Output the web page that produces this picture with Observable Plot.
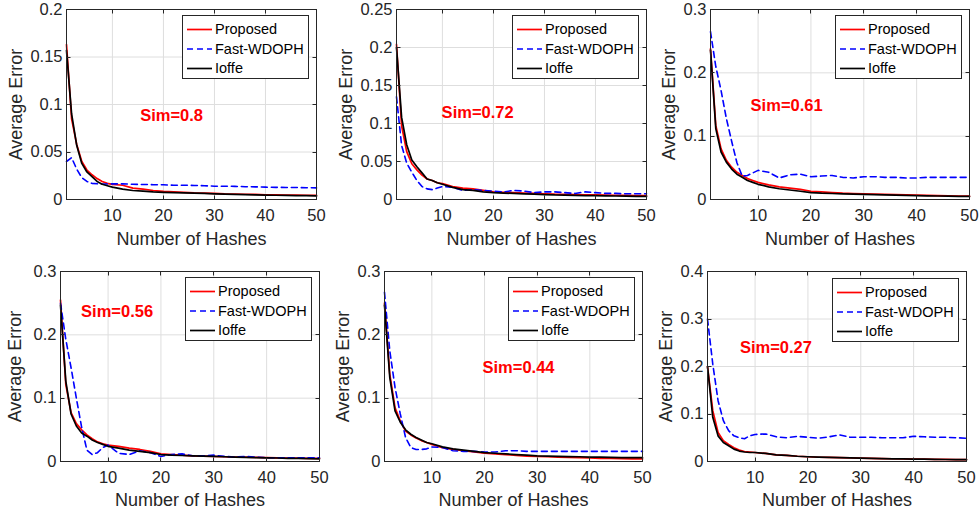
<!DOCTYPE html>
<html><head><meta charset="utf-8">
<script src="https://cdn.jsdelivr.net/npm/d3@7"></script>
<script src="https://cdn.jsdelivr.net/npm/@observablehq/plot@0.6"></script>
<style>
body{margin:0;background:#fff;}
#chart{position:relative;width:979px;height:514px;overflow:hidden;background:#fff;font-family:"Liberation Sans",Arial,Helvetica,sans-serif;color:#262626;}
.panel{position:absolute;}
.legend{position:absolute;background:#fff;border:1px solid #262626;box-sizing:border-box;}
.legend svg{position:absolute;left:0;top:0;}
.legend span{position:absolute;left:32px;font-size:14.5px;line-height:18px;color:#000;white-space:nowrap;}
</style></head><body><div id="chart"></div>
<script>
// ---------------- data ----------------
const hashes = [1,2,3,4,5,6,7,8,9,10,12,14,16,18,20,22,24,26,28,30,32,34,36,38,40,42,44,46,48,50];
const seriesNames = ["Proposed","Fast-WDOPH","Ioffe"];
const simLabels = ["Sim=0.8","Sim=0.72","Sim=0.61","Sim=0.56","Sim=0.44","Sim=0.27"];
const simX = [21.6, 16.9, 15.4, 11.7, 26.45, 13.95];
const simY = [0.0884, 0.1138, 0.148, 0.237, 0.148, 0.239];
const xTicks = [10,20,30,40,50];
const yTicks1 = [0,0.05,0.1,0.15,0.2];
const yTicks2 = [0,0.05,0.1,0.15,0.2,0.25];
const yTicks3 = [0,0.1,0.2,0.3];
const yTicks4 = [0,0.1,0.2,0.3];
const yTicks5 = [0,0.1,0.2,0.3];
const yTicks6 = [0,0.1,0.2,0.3,0.4];

// Sim=0.8
const proposed1 = [0.163,0.085,0.058,0.040,0.031,0.026,0.022,0.019,0.017,0.016,0.015,0.012,0.011,0.0095,0.0085,0.008,0.0075,0.007,0.0068,0.0065,0.006,0.0058,0.0055,0.0053,0.005,0.0048,0.0047,0.0046,0.0045,0.0044];
const fast1     = [0.040,0.044,0.032,0.023,0.019,0.017,0.0165,0.0163,0.0163,0.0165,0.0165,0.016,0.0158,0.0156,0.0155,0.015,0.015,0.0148,0.0145,0.014,0.014,0.0138,0.0135,0.0133,0.013,0.0128,0.0127,0.0126,0.0124,0.0122];
const ioffe1    = [0.157,0.090,0.057,0.038,0.029,0.024,0.019,0.016,0.0145,0.013,0.011,0.0095,0.0088,0.008,0.0075,0.0072,0.007,0.0067,0.0064,0.006,0.0057,0.0054,0.0051,0.0049,0.0047,0.0045,0.0043,0.0041,0.004,0.0038];
// Sim=0.72
const proposed2 = [0.204,0.097,0.063,0.047,0.039,0.032,0.027,0.025,0.022,0.021,0.017,0.015,0.014,0.012,0.010,0.0095,0.009,0.0085,0.008,0.0075,0.007,0.0068,0.0065,0.0062,0.006,0.0058,0.0056,0.0054,0.0052,0.005];
const fast2     = [0.135,0.071,0.048,0.036,0.025,0.017,0.014,0.013,0.015,0.017,0.016,0.012,0.013,0.012,0.011,0.010,0.012,0.011,0.009,0.010,0.010,0.009,0.008,0.010,0.009,0.008,0.008,0.0075,0.0075,0.0075];
const ioffe2    = [0.200,0.108,0.072,0.052,0.043,0.035,0.027,0.025,0.022,0.020,0.016,0.013,0.012,0.010,0.009,0.0085,0.008,0.0075,0.007,0.0065,0.006,0.0058,0.0055,0.0052,0.005,0.0048,0.0046,0.0044,0.0042,0.004];
// Sim=0.61
const proposed3 = [0.238,0.117,0.080,0.062,0.051,0.043,0.038,0.033,0.030,0.027,0.023,0.020,0.018,0.016,0.013,0.012,0.011,0.010,0.0095,0.009,0.0085,0.008,0.0078,0.0075,0.007,0.0065,0.006,0.0058,0.0055,0.0052];
const fast3     = [0.265,0.21,0.172,0.128,0.092,0.058,0.037,0.038,0.042,0.046,0.043,0.034,0.039,0.040,0.036,0.037,0.038,0.035,0.034,0.036,0.036,0.035,0.035,0.034,0.034,0.035,0.035,0.035,0.035,0.035];
const ioffe3    = [0.236,0.112,0.075,0.059,0.048,0.040,0.035,0.030,0.027,0.024,0.020,0.017,0.015,0.013,0.011,0.010,0.0095,0.009,0.0085,0.008,0.0077,0.0074,0.007,0.0065,0.006,0.0058,0.0055,0.0052,0.005,0.0048];
// Sim=0.56
const proposed4 = [0.255,0.122,0.077,0.060,0.050,0.042,0.036,0.031,0.028,0.026,0.024,0.021,0.019,0.016,0.012,0.011,0.010,0.009,0.0085,0.008,0.0075,0.007,0.0068,0.0065,0.006,0.0058,0.0055,0.0052,0.005,0.005];
const fast4     = [0.250,0.193,0.148,0.100,0.054,0.018,0.011,0.014,0.022,0.026,0.013,0.011,0.017,0.014,0.008,0.011,0.012,0.009,0.009,0.010,0.008,0.007,0.008,0.007,0.006,0.006,0.006,0.006,0.006,0.006];
const ioffe4    = [0.247,0.127,0.075,0.056,0.045,0.040,0.034,0.030,0.027,0.024,0.021,0.018,0.016,0.014,0.011,0.010,0.0095,0.009,0.0085,0.008,0.0075,0.007,0.0065,0.006,0.0058,0.0055,0.005,0.0048,0.0045,0.0042];
// Sim=0.44
const proposed5 = [0.250,0.138,0.085,0.064,0.048,0.042,0.037,0.033,0.030,0.027,0.022,0.019,0.017,0.015,0.013,0.012,0.011,0.0095,0.0085,0.008,0.0075,0.007,0.0065,0.006,0.0055,0.005,0.0048,0.0045,0.0043,0.004];
const fast5     = [0.267,0.175,0.117,0.075,0.038,0.022,0.019,0.019,0.020,0.023,0.022,0.017,0.016,0.016,0.015,0.015,0.017,0.017,0.016,0.016,0.016,0.016,0.016,0.016,0.016,0.016,0.016,0.016,0.016,0.016];
const ioffe5    = [0.247,0.133,0.080,0.062,0.050,0.043,0.038,0.034,0.030,0.028,0.023,0.020,0.018,0.016,0.014,0.013,0.012,0.011,0.010,0.009,0.0085,0.008,0.0078,0.0075,0.007,0.0068,0.0065,0.0062,0.006,0.006];
// Sim=0.27
const proposed6 = [0.200,0.107,0.061,0.044,0.036,0.029,0.024,0.021,0.020,0.019,0.017,0.014,0.013,0.011,0.010,0.009,0.0085,0.008,0.0075,0.007,0.0065,0.006,0.0058,0.0055,0.005,0.0048,0.0045,0.0043,0.004,0.004];
const fast6     = [0.300,0.205,0.128,0.086,0.065,0.054,0.050,0.048,0.054,0.057,0.058,0.052,0.050,0.053,0.051,0.049,0.052,0.056,0.051,0.051,0.051,0.050,0.050,0.050,0.053,0.052,0.051,0.051,0.050,0.049];
const ioffe6    = [0.200,0.093,0.054,0.040,0.033,0.026,0.022,0.020,0.019,0.019,0.017,0.014,0.013,0.011,0.010,0.0092,0.0085,0.008,0.0075,0.007,0.0065,0.006,0.0057,0.0054,0.0051,0.0048,0.0045,0.0042,0.004,0.0038];

// ---------------- layout & style ----------------
const panels = [
  {p:proposed1,f:fast1,i:ioffe1,yT:yTicks1},
  {p:proposed2,f:fast2,i:ioffe2,yT:yTicks2},
  {p:proposed3,f:fast3,i:ioffe3,yT:yTicks3},
  {p:proposed4,f:fast4,i:ioffe4,yT:yTicks4},
  {p:proposed5,f:fast5,i:ioffe5,yT:yTicks5},
  {p:proposed6,f:fast6,i:ioffe6,yT:yTicks6}
];
const layout = [
  {left:0,  top:0,   w:326,h:257,mL:66,mT:9, mR:10,mB:58,yDx:-50,  xDy:40,lgL:182,lgT:15},
  {left:326,top:0,   w:327,h:257,mL:70,mT:9, mR:7, mB:58,yDx:-50.5,xDy:40,lgL:512,lgT:15},
  {left:653,top:0,   w:326,h:257,mL:57,mT:9, mR:10,mB:58,yDx:-41,  xDy:40,lgL:835,lgT:15},
  {left:0,  top:257, w:326,h:257,mL:60,mT:14,mR:7, mB:53,yDx:-45,  xDy:39,lgL:185,lgT:277},
  {left:326,top:257, w:327,h:257,mL:58,mT:14,mR:11,mB:53,yDx:-41.5,xDy:39,lgL:508,lgT:277},
  {left:653,top:257, w:326,h:257,mL:54,mT:14,mR:13,mB:53,yDx:-41.5,xDy:39,lgL:832,lgT:278}
];
const colors = ["#ff0000","#0000ff","#000000"];
const dashes = [null,"6,4",null];
const axisColor = "#262626";
const fontFamily = '"Liberation Sans", Arial, Helvetica, sans-serif';
const fmt = d => String(+d.toFixed(3));

const chart = document.getElementById("chart");

panels.forEach((pn, k) => {
  const L = layout[k];
  const yMax = pn.yT[pn.yT.length - 1];
  const rows = s => hashes.map((x, j) => ({x, y: s[j]}));
  const plot = Plot.plot({
    width: L.w, height: L.h,
    marginLeft: L.mL, marginRight: L.mR, marginTop: L.mT, marginBottom: L.mB,
    x: {domain: [1, 50], axis: null},
    y: {domain: [0, yMax], axis: null},
    style: {fontFamily, fontSize: "16.5px", color: axisColor, background: "transparent", overflow: "visible"},
    marks: [
      Plot.gridX(xTicks, {stroke: "#dedede", strokeOpacity: 1}),
      Plot.gridY(pn.yT, {stroke: "#dedede", strokeOpacity: 1}),
      Plot.axisX(xTicks, {tickSize: 0, tickPadding: 10, label: null, fill: axisColor, fontSize: 16.5}),
      Plot.axisY(pn.yT, {tickSize: 0, tickPadding: 4, tickFormat: fmt, label: null, fill: axisColor, fontSize: 16.5}),
      Plot.line(rows(pn.p), {x: "x", y: "y", stroke: colors[0], strokeWidth: 1.7}),
      Plot.line(rows(pn.f), {x: "x", y: "y", stroke: colors[1], strokeWidth: 1.6, strokeDasharray: dashes[1]}),
      Plot.line(rows(pn.i), {x: "x", y: "y", stroke: colors[2], strokeWidth: 1.7}),
      Plot.frame({stroke: axisColor, strokeWidth: 1}),
      Plot.text([simLabels[k]], {x: [simX[k]], y: [simY[k]], fill: "#ff0000", fontWeight: "bold", fontSize: 16.5, lineAnchor: "middle"}),
      Plot.text(["Number of Hashes"], {frameAnchor: "bottom", dy: L.xDy, fontSize: 18, fill: axisColor, lineAnchor: "middle", textAnchor: "middle"}),
      Plot.text(["Average Error"], {frameAnchor: "left", rotate: -90, dx: L.yDx, fontSize: 18, fill: axisColor, lineAnchor: "middle", textAnchor: "middle"})
    ]
  });
  // inward (MATLAB-style) tick marks on all four sides, positioned with the plot's own scales
  const sx = plot.scale("x"), sy = plot.scale("y");
  const g = d3.select(plot).append("g").attr("stroke", axisColor).attr("stroke-width", 1);
  const top = L.mT, bot = L.h - L.mB, lft = L.mL, rgt = L.w - L.mR;
  xTicks.forEach(t => {
    const X = Math.round(sx.apply(t)) + 0.5;
    g.append("line").attr("x1", X).attr("x2", X).attr("y1", bot + 0.5).attr("y2", bot - 3.5);
    g.append("line").attr("x1", X).attr("x2", X).attr("y1", top + 0.5).attr("y2", top + 4.5);
  });
  pn.yT.forEach(t => {
    const Y = Math.round(sy.apply(t)) + 0.5;
    g.append("line").attr("y1", Y).attr("y2", Y).attr("x1", lft + 0.5).attr("x2", lft + 4.5);
    g.append("line").attr("y1", Y).attr("y2", Y).attr("x1", rgt + 0.5).attr("x2", rgt - 3.5);
  });
  plot.classList.add("panel");
  plot.style.left = L.left + "px";
  plot.style.top = L.top + "px";
  chart.appendChild(plot);

  // legend box
  const lg = document.createElement("div");
  lg.className = "legend";
  lg.style.left = L.lgL + "px";
  lg.style.top = L.lgT + "px";
  lg.style.width = "127px";
  lg.style.height = "64px";
  const ns = "http://www.w3.org/2000/svg";
  const s = document.createElementNS(ns, "svg");
  s.setAttribute("width", 127); s.setAttribute("height", 64);
  lg.appendChild(s);
  seriesNames.forEach((name, j) => {
    const cy = 13.5 + j * 19.5;
    const ln = document.createElementNS(ns, "line");
    ln.setAttribute("x1", 4); ln.setAttribute("x2", 29);
    ln.setAttribute("y1", cy); ln.setAttribute("y2", cy);
    ln.setAttribute("stroke", colors[j]); ln.setAttribute("stroke-width", 1.7);
    if (dashes[j]) ln.setAttribute("stroke-dasharray", dashes[j]);
    s.appendChild(ln);
    const sp = document.createElement("span");
    sp.textContent = name;
    sp.style.top = (cy - 9.5) + "px";
    lg.appendChild(sp);
  });
  chart.appendChild(lg);
});
</script>
</body></html>
